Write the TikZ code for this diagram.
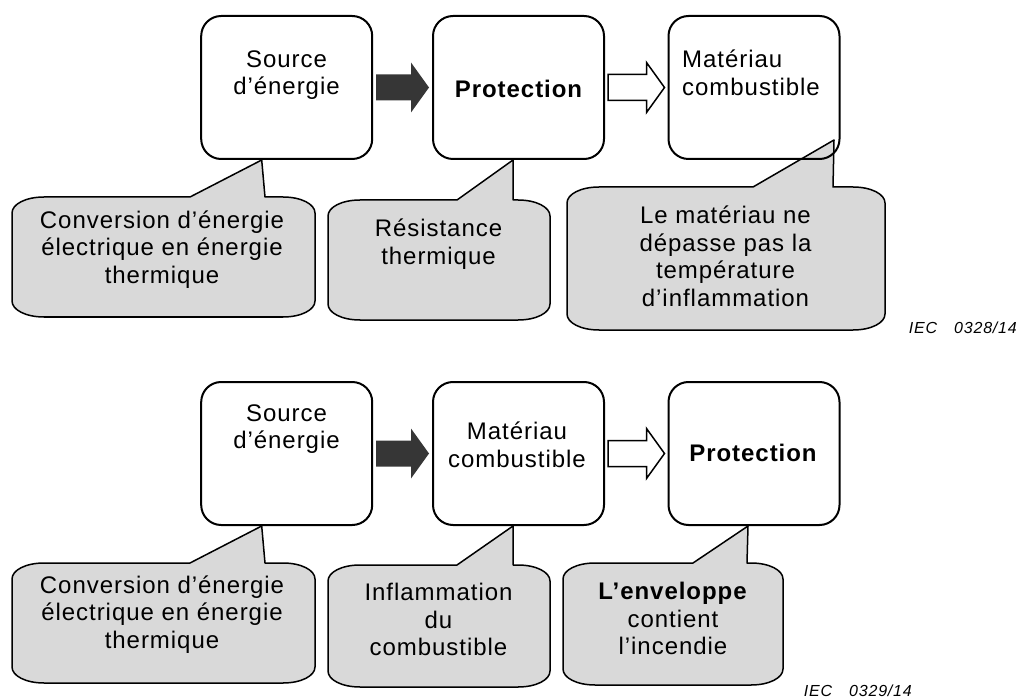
\documentclass[tikz,border=0pt]{standalone}
\usepackage{fontspec}
\setmainfont[LetterSpace=4]{Liberation Sans}
\newfontfamily\figreffont[LetterSpace=5]{Liberation Sans}
\usetikzlibrary{calc,positioning,backgrounds}

\definecolor{bubblegray}{RGB}{217,217,217}
\definecolor{arrowdark}{RGB}{54,54,54}

% #1 left, #2 top, #3 right, #4 bottom, #5/#6 foot of the wedge, #7 tip
\newcommand{\callout}[7]{%
	\path[bubble] (#1,#2+16) .. controls (#1,#2+7) and (#1+14,#2) .. (#1+32,#2) -- (#5,#2) -- (#7) -- (#6,#2) -- (#3-32,#2)
		.. controls (#3-14,#2) and (#3,#2+7) .. (#3,#2+16) -- (#3,#4-16)
		.. controls (#3,#4-7) and (#3-14,#4) .. (#3-32,#4) -- (#1+32,#4)
		.. controls (#1+14,#4) and (#1,#4-7) .. (#1,#4-16) -- cycle;}
\newcommand{\blockarrow}[3]{%
	\path[#1] ($(#2.east)+(3,-13)$) -- ($(#3.west)+(-21,-13)$) -- ++(0,-12) -- ($(#3.west)+(-3,0)$)
		-- ($(#3.west)+(-21,25)$) -- ++(0,-12) -- ($(#2.east)+(3,13)$) -- cycle;}

\begin{document}
\begin{tikzpicture}[
		x=1pt, y=-1pt,
		box/.style={draw, line width=2pt, rounded corners=20pt, minimum width=171pt, minimum height=143pt, inner sep=0pt},
		boxtext/.style={font=\fontsize{24}{27.5}\selectfont, align=center, inner sep=0pt},
		bubble/.style={draw, line width=1.5pt, fill=bubblegray, line join=round},
		bubbletext/.style={font=\fontsize{24}{27.5}\selectfont, align=center, inner sep=0pt},
		darkarrow/.style={fill=arrowdark},
		openarrow/.style={draw, line width=1.5pt, fill=white, line join=miter},
		figref/.style={font=\figreffont\itshape\fontsize{16}{18}\selectfont, inner sep=0pt}
	]
		\useasboundingbox (0,0) rectangle (1019,700);

		\node[box] (srcA) at (286.7,87.5) {};
		\node[box] (protA) at (518.5,87.5) {};
		\node[box] (matA) at (754,87.5) {};
		\node[boxtext] (srcAtxt) at (286.5,75.3) {Source\\d’énergie};
		\node[boxtext, font=\fontsize{24}{27.5}\selectfont\bfseries] (protAtxt) at (518.5,89) {Protection};
		\node[boxtext, align=left, anchor=west] (matAtxt) at (682,72.9) {Matériau\\combustible};
		\blockarrow{darkarrow}{srcA}{protA}
		\blockarrow{openarrow}{protA}{matA}

		\node[box] (srcB) at (286.7,453.5) {};
		\node[box] (matB) at (518.5,453.5) {};
		\node[box] (protB) at (754,453.5) {};
		\node[boxtext] (srcBtxt) at (286.5,428.9) {Source\\d’énergie};
		\node[boxtext] (matBtxt) at (517,444.7) {Matériau\\combustible};
		\node[boxtext, font=\fontsize{24}{27.5}\selectfont\bfseries] (protBtxt) at (753,453) {Protection};
		\blockarrow{darkarrow}{srcB}{matB}
		\blockarrow{openarrow}{matB}{protB}

		\begin{scope}[on background layer]
			\callout{12}{197}{315}{317}{190}{265}{$(srcA.south)+(-25,0)$}
			\callout{328}{200}{550}{320}{457}{513}{$(protA.south)+(-5.5,0)$}
			\callout{567}{187}{885}{330}{753}{833}{$(matA.south east)+(-6.5,-20)$}
			\callout{12}{563}{315}{683}{190}{265}{$(srcB.south)+(-25,0)$}
			\callout{328}{565}{550}{687}{457}{513}{$(matB.south)+(-5.5,0)$}
			\callout{563}{563}{783}{685}{693}{747}{$(protB.south)+(-6,0)$}
		\end{scope}
		\node[bubbletext] (convA) at (162,249.4) {Conversion d’énergie\\électrique en énergie\\thermique};
		\node[bubbletext] (resA) at (438.5,244) {Résistance\\thermique};
		\node[bubbletext] (tempA) at (725.5,256.4) {Le matériau ne\\dépasse pas la\\température\\d’inflammation};
		\node[bubbletext] (convB) at (162,614.5) {Conversion d’énergie\\électrique en énergie\\thermique};
		\node[bubbletext] (inflB) at (438.5,619.8) {Inflammation\\du\\combustible};
		\node[bubbletext] (envB) at (673,618.9) {\textbf{L’enveloppe}\\contient\\l’incendie};

		\node[figref, anchor=east] (figA) at (1017,327.5) {IEC\hspace{17pt}0328/14};
		\node[figref, anchor=east] (figB) at (912,691) {IEC\hspace{17pt}0329/14};
	\end{tikzpicture}
\end{document}
